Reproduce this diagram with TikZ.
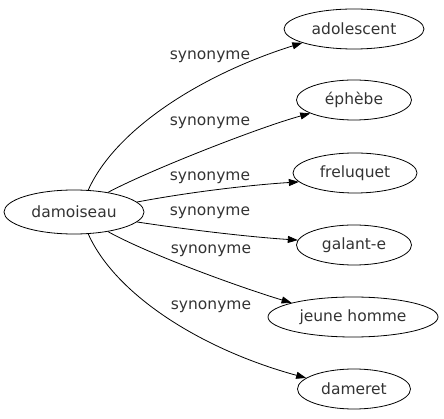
\documentclass[tikz,border=0pt]{standalone}
\usepackage{fontspec}
\setmainfont{DejaVu Sans}
\usetikzlibrary{shapes.geometric,arrows.meta}
\begin{document}
\begin{tikzpicture}[x=1pt,y=-1pt,
  word/.style={draw,ellipse,line width=0.8pt,minimum height=40pt,inner sep=0pt,font=\fontsize{15.5}{18}\selectfont,text=black!80},
  rel/.style={line width=0.8pt,-{Triangle[length=10pt,width=7pt]}},
  lab/.style={font=\fontsize{15.5}{18}\selectfont,text=black!80,inner sep=0pt}]
\useasboundingbox (0,0) rectangle (444,419);
\node[word,minimum width=140pt,minimum height=44pt] (d) at (74,212) {damoiseau};
\node[word,minimum width=140pt] (a) at (354,29) {adolescent};
\node[word,minimum width=115pt] (e) at (354,100) {éphèbe};
\node[word,minimum width=124pt] (f) at (355,173) {freluquet};
\node[word,minimum width=115pt] (g) at (354,245) {galant-e};
\node[word,minimum width=170pt] (j) at (353,317) {jeune homme};
\node[word,minimum width=113pt] (m) at (354,389) {dameret};
\draw[rel] (d.57) .. controls (115,130) and (200,75) .. (a.195);
\draw[rel] (d.30) .. controls (150,170) and (260,127) .. (e.197);
\draw[rel] (d.9) .. controls (190,192) and (250,185) .. (f.189);
\draw[rel] (d.-9) .. controls (190,230) and (250,237) .. (g.175);
\draw[rel] (d.-30) .. controls (150,255) and (245,289) .. (j.167);
\draw[rel] (d.-57) .. controls (115,294) and (200,349) .. (m.167);
\node[lab] (l1) at (210,57) {synonyme};
\node[lab] (l2) at (210,123) {synonyme};
\node[lab] (l3) at (210,178) {synonyme};
\node[lab] (l4) at (210,213) {synonyme};
\node[lab] (l5) at (211,251) {synonyme};
\node[lab] (l6) at (211,307) {synonyme};
\end{tikzpicture}
\end{document}
